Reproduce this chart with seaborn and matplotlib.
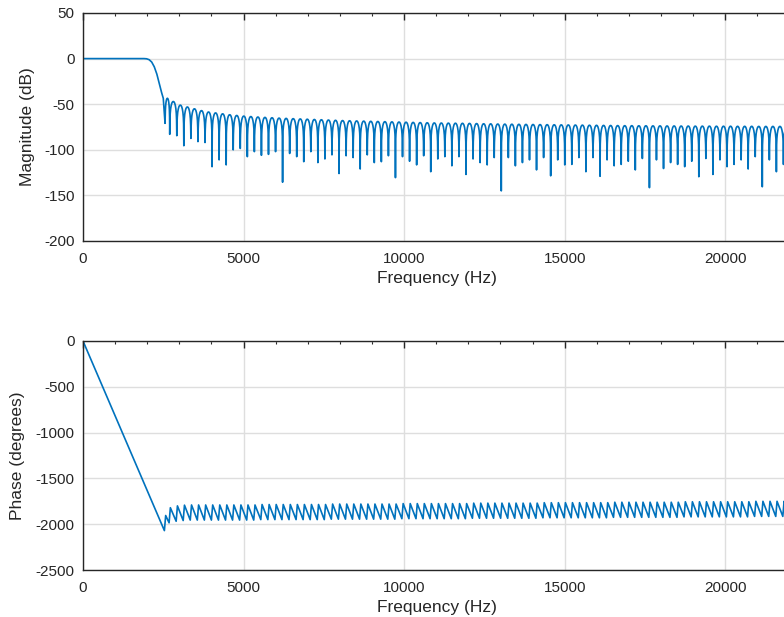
import numpy as np
import pandas as pd
import matplotlib
matplotlib.use("Agg")
import matplotlib.pyplot as plt
import seaborn as sns
from matplotlib.ticker import MultipleLocator

# ---- magnitude response -------------------------------------------------
# passband and transition band (Hz, dB)
pass_hz = [0, 1900, 1980, 2060, 2140, 2220, 2300, 2380, 2450, 2500]
pass_db = [0, 0, -0.2, -1.2, -3.8, -9.0, -17.0, -28.0, -37.5, -43.5]

# stopband nulls (Hz) and their depths (dB)
null_hz = [2555,
           2701, 2921, 3140, 3360, 3580, 3800, 4019, 4239, 4459, 4678,
           4898, 5118, 5337, 5557, 5777, 5997, 6216, 6436, 6656, 6875,
           7095, 7315, 7534, 7754, 7974, 8194, 8413, 8633, 8853, 9072,
           9292, 9512, 9731, 9951, 10171, 10391, 10610, 10830, 11050, 11269,
           11489, 11709, 11928, 12148, 12368, 12588, 12807, 13027, 13247, 13466,
           13686, 13906, 14125, 14345, 14565, 14785, 15004, 15224, 15444, 15663,
           15883, 16103, 16322, 16542, 16762, 16982, 17201, 17421, 17641, 17860,
           18080, 18300, 18519, 18739, 18959, 19179, 19398, 19618, 19838, 20057,
           20277, 20497, 20716, 20936, 21156, 21376, 21595, 21815, 22035]
null_db = [-71,
           -83, -84.5, -95.5, -87.5, -91, -92, -118.5, -111, -116.5, -100,
           -98.5, -107.5, -102, -106, -105, -102, -135.5, -104, -107.5, -113,
           -102, -114, -110, -105.5, -126, -106.5, -108.5, -121, -105.5, -114,
           -113, -106.5, -130.5, -107.5, -112.5, -116.5, -106.5, -124, -110, -107.5,
           -117.5, -107.5, -127, -110, -114, -116.5, -108.5, -145, -108.5, -117.5,
           -114, -111, -122, -108.5, -128.5, -111, -116.5, -116, -108.5, -124,
           -108.5, -129, -111, -117.5, -116, -112.5, -122, -109.5, -141.5, -111,
           -120.5, -114, -116, -118.5, -112.5, -129.5, -109.5, -127, -111, -118.5,
           -116, -111, -121, -107.5, -140.5, -111, -124, -116, -112]

# sidelobe peak level between consecutive nulls (dB)
peak_db = [-43.5,
           -47.0, -51.0, -53.0, -55.0, -57.0, -58.5, -59.5, -60.5, -61.5, -62.3,
           -63.0, -63.5, -64.0, -64.4, -64.8, -65.2, -65.5, -65.8, -66.1, -66.4,
           -66.7, -67.0, -67.3, -67.6, -67.9, -68.1, -68.3, -68.5, -68.7, -68.9,
           -69.1, -69.3, -69.5, -69.7, -69.9, -70.1, -70.3, -70.5, -70.6, -70.7,
           -70.8, -70.9, -71.0, -71.2, -71.4, -71.5, -71.7, -71.8, -71.9, -72.0,
           -72.1, -72.2, -72.3, -72.4, -72.5, -72.6, -72.7, -72.8, -72.9, -73.0,
           -73.1, -73.2, -73.3, -73.4, -73.5, -73.5, -73.6, -73.6, -73.7, -73.7,
           -73.8, -73.8, -73.9, -73.9, -74.0, -74.0, -74.0, -74.1, -74.1, -74.1,
           -74.2, -74.2, -74.2, -74.3, -74.3, -74.3, -74.3, -74.4]

# ---- phase response -----------------------------------------------------
# phase just below / just above each null (degrees)
phase_low = ([-2070, -1985, -1968, -1960] + [-1955] * 10 + [-1950] * 10 +
             [-1945] * 10 + [-1940] * 10 + [-1935] * 10 + [-1930] * 10 +
             [-1925] * 10 + [-1920] * 10 + [-1915] * 6)
phase_high = ([-1905, -1820, -1800, -1792] + [-1790] * 10 + [-1785] * 10 +
              [-1780] * 10 + [-1775] * 10 + [-1770] * 10 + [-1765] * 10 +
              [-1760] * 10 + [-1755] * 10 + [-1750] * 6)

mag_ticks = [50, 0, -50, -100, -150, -200]
phase_ticks = [0, -500, -1000, -1500, -2000, -2500]
freq_ticks = [0, 5000, 10000, 15000, 20000]

# lobe outline between two nulls: fraction across the lobe, dB below its peak
LOBE_T = [0.03, 0.07, 0.13, 0.21, 0.30, 0.40, 0.50, 0.60, 0.70, 0.79, 0.87, 0.93, 0.97]
LOBE_DROP = [-20.5, -13.2, -8.0, -4.3, -1.8, -0.4, 0.0, -0.4, -1.8, -4.3, -8.0, -13.2, -20.5]

mag_f = list(pass_hz)
mag_v = list(pass_db)
for i in range(len(null_hz) - 1):
    f0, f1 = null_hz[i], null_hz[i + 1]
    mag_f.append(f0)
    mag_v.append(null_db[i])
    for t, d in zip(LOBE_T, LOBE_DROP):
        mag_f.append(f0 + t * (f1 - f0))
        mag_v.append(peak_db[i] + d)
mag_f.append(null_hz[-1])
mag_v.append(null_db[-1])
mag = pd.DataFrame({"Frequency (Hz)": mag_f, "Magnitude (dB)": mag_v})

ph_f = [0]
ph_v = [0]
for f, lo, hi in zip(null_hz, phase_low, phase_high):
    ph_f += [f - 20, f + 20]
    ph_v += [lo, hi]
phase = pd.DataFrame({"Frequency (Hz)": ph_f, "Phase (degrees)": ph_v})

# ---- styling -------------------------------------------------------------
sns.set_theme(style="white")
INK = "#262626"
plt.rcParams.update({
    "font.family": ["Liberation Sans", "DejaVu Sans"],
    "axes.unicode_minus": False,
    "axes.edgecolor": INK,
    "axes.linewidth": 1.0,
    "axes.labelcolor": INK,
    "xtick.color": INK,
    "ytick.color": INK,
    "xtick.labelcolor": INK,
    "ytick.labelcolor": INK,
    "xtick.direction": "in",
    "ytick.direction": "in",
    "xtick.top": True,
    "ytick.right": True,
    "xtick.major.size": 5,
    "ytick.major.size": 5,
    "xtick.minor.size": 2.5,
    "ytick.minor.size": 2.5,
    "xtick.major.width": 1.0,
    "ytick.major.width": 1.0,
    "xtick.minor.width": 0.8,
    "ytick.minor.width": 0.8,
    "xtick.major.pad": 8.0,
    "ytick.major.pad": 6,
})
LINE = "#0072BD"
GRID = "#dedede"

fig = plt.figure(figsize=(7.84, 6.17), dpi=100)
ax1 = fig.add_axes([83 / 784, 1 - 241 / 617, 708 / 784, 228 / 617])
ax2 = fig.add_axes([83 / 784, 1 - 570 / 617, 708 / 784, 229 / 617])

sns.lineplot(data=mag, x="Frequency (Hz)", y="Magnitude (dB)", ax=ax1,
             color=LINE, linewidth=1.2, estimator=None, sort=False)
sns.lineplot(data=phase, x="Frequency (Hz)", y="Phase (degrees)", ax=ax2,
             color=LINE, linewidth=1.2, estimator=None, sort=False)

for ax, yt, minor_y in ((ax1, mag_ticks, 25), (ax2, phase_ticks, 250)):
    ax.set_xlim(0, 22050)
    ax.set_ylim(min(yt), max(yt))
    ax.set_xticks(freq_ticks)
    ax.set_yticks(yt)
    ax.xaxis.set_minor_locator(MultipleLocator(1000))
    ax.yaxis.set_minor_locator(MultipleLocator(minor_y))
    ax.tick_params(which="both", top=True, right=True, labelsize=11)
    ax.grid(True, which="major", color=GRID, linewidth=1.0)
    ax.set_axisbelow(True)
    ax.set_xlabel("Frequency (Hz)", fontsize=12.5)
    for s in ax.spines.values():
        s.set_visible(True)

ax1.set_ylabel("Magnitude (dB)", fontsize=12.5)
ax2.set_ylabel("Phase (degrees)", fontsize=12.5)
ax1.xaxis.set_label_coords(0.5, -0.133)
ax2.xaxis.set_label_coords(0.5, -0.130)
ax1.yaxis.set_label_coords(-0.068, 0.5)
ax2.yaxis.set_label_coords(-0.082, 0.5)

fig.savefig("out.png", dpi=100)
